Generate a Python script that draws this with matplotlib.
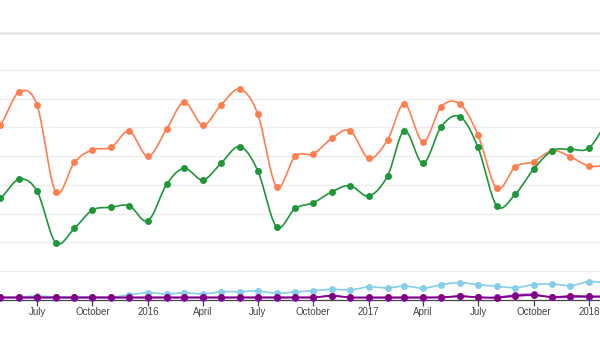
import matplotlib
matplotlib.use("Agg")
import matplotlib.pyplot as plt
import matplotlib.dates as mdates
from matplotlib.lines import Line2D
import numpy as np
from datetime import datetime, timedelta

plt.rcParams['font.family'] = ['Liberation Sans', 'DejaVu Sans']

# monthly data, April 2015 .. February 2018
months = [datetime(2015 + (3 + i) // 12, (3 + i) % 12 + 1, 1) for i in range(35)]

orange = [114.7, 121.7, 144.5, 135.6, 75.0, 95.7, 104.5, 106.1, 117.3,
          99.9, 118.9, 137.5, 121.7, 135.6, 146.6, 129.3, 78.7, 99.9, 101.7, 112.4, 117.7,
          98.5, 111.2, 136.3, 110.0, 134.4, 136.3, 114.7, 77.6, 92.6, 96.1, 103.8, 99.6,
          93.1, 93.8]
green = [65.9, 70.6, 83.8, 75.7, 39.7, 49.7, 62.4, 64.3, 65.4,
         55.0, 80.4, 91.5, 83.4, 95.0, 106.6, 89.8, 50.8, 63.6, 67.5, 75.2, 79.4,
         72.2, 86.1, 117.7, 95.0, 120.5, 127.5, 106.1, 65.4, 73.6, 90.8, 103.8, 104.7,
         105.7, 125.2]
skyblue = [1.6, 1.6, 1.8, 2.5, 1.8, 1.6, 1.8, 1.6, 3.4,
           4.8, 3.9, 4.8, 3.9, 5.5, 5.5, 6.0, 4.4, 5.3, 6.2, 7.2, 6.7,
           8.8, 8.1, 9.5, 7.9, 10.4, 11.8, 10.4, 9.3, 8.3, 10.4, 10.9, 9.7,
           12.5, 11.6]
violet = [1.2, 1.2, 1.2, 1.2, 1.2, 1.2, 1.2, 1.2, 1.2,
          1.2, 1.2, 1.2, 1.2, 1.2, 1.2, 1.2, 1.2, 1.2, 1.4, 2.8, 1.4,
          1.2, 1.2, 1.2, 1.2, 1.4, 2.2, 1.6, 1.6, 3.2, 3.6, 1.6, 1.8,
          1.8, 1.8]
purple = [1.6, 1.6, 1.6, 1.6, 1.6, 1.6, 1.6, 1.6, 1.6,
          1.6, 1.6, 1.6, 1.6, 1.6, 1.6, 1.6, 1.6, 1.6, 1.6, 2.5, 1.6,
          1.6, 1.6, 1.6, 1.6, 1.6, 2.5, 1.6, 1.3, 2.5, 3.0, 1.8, 2.5,
          2.3, 2.3]

tick_dates = [datetime(2015, 7, 1), datetime(2015, 10, 1), datetime(2016, 1, 1),
              datetime(2016, 4, 1), datetime(2016, 7, 1), datetime(2016, 10, 1),
              datetime(2017, 1, 1), datetime(2017, 4, 1), datetime(2017, 7, 1),
              datetime(2017, 10, 1), datetime(2018, 1, 1)]
tick_labels = ['July', 'October', '2016', 'April', 'July', 'October',
               '2017', 'April', 'July', 'October', '2018']


def spline(x, y, n=16):
    """ Catmull-Rom curve through the points (x, y). """
    x = np.asarray(x, float)
    y = np.asarray(y, float)
    px = np.concatenate([[2 * x[0] - x[1]], x, [2 * x[-1] - x[-2]]])
    py = np.concatenate([[2 * y[0] - y[1]], y, [2 * y[-1] - y[-2]]])
    t = np.linspace(0, 1, n, endpoint=False)
    xs, ys = [], []
    for i in range(1, len(px) - 2):
        for p, out in ((px, xs), (py, ys)):
            p0, p1, p2, p3 = p[i - 1], p[i], p[i + 1], p[i + 2]
            out.extend(0.5 * (2 * p1 + (-p0 + p2) * t
                              + (2 * p0 - 5 * p1 + 4 * p2 - p3) * t ** 2
                              + (-p0 + 3 * p1 - 3 * p2 + p3) * t ** 3))
    xs.append(x[-1])
    ys.append(y[-1])
    return np.array(xs), np.array(ys)


fig = plt.figure(figsize=(6.0, 3.37), dpi=100)
ax = fig.add_axes([0, 37.4 / 337, 1, 299.6 / 337])

xnum = mdates.date2num(months)
series = [(purple, '#800080'), (violet, '#8a2be2'), (skyblue, '#87ceeb'),
          (orange, '#ff7f50'), (green, '#1f9638')]
for i, (vals, col) in enumerate([series[2], series[1], series[0], series[3], series[4]]):
    sx, sy = spline(xnum, vals)
    ax.plot(sx, sy, color=col, lw=1.2, clip_on=False, zorder=3 + i)
    ax.plot(xnum, vals, 'o', color=col, ms=5, mew=0, clip_on=False, zorder=3 + i)

jan16 = mdates.date2num(datetime(2016, 1, 1))
ax.set_xlim(jan16 - 245.3, jan16 + 749.2)
ax.set_ylim(0, 208.8)

ax.set_yticks([20, 40, 60, 80, 100, 120, 140, 160])
ax.set_yticklabels([])
ax.tick_params(axis='y', length=0)
ax.grid(axis='y', color='#eeeeee', lw=1.0)
ax.set_axisbelow(True)

ax.set_xticks(mdates.date2num(tick_dates))
ax.set_xticklabels(tick_labels, fontsize=7, color='#444444')
ax.tick_params(axis='x', direction='out', length=4, width=0.9, color='#444444', pad=1.5)

for s in ['top', 'left', 'right']:
    ax.spines[s].set_visible(False)
ax.spines['bottom'].set_color('#444444')
ax.spines['bottom'].set_linewidth(0.9)

# separator line above the plot area
fig.add_artist(Line2D([0, 1], [1 - 33 / 337, 1 - 33 / 337], color='#e3e3e3', lw=1.8))

fig.savefig('out.png', dpi=100)
